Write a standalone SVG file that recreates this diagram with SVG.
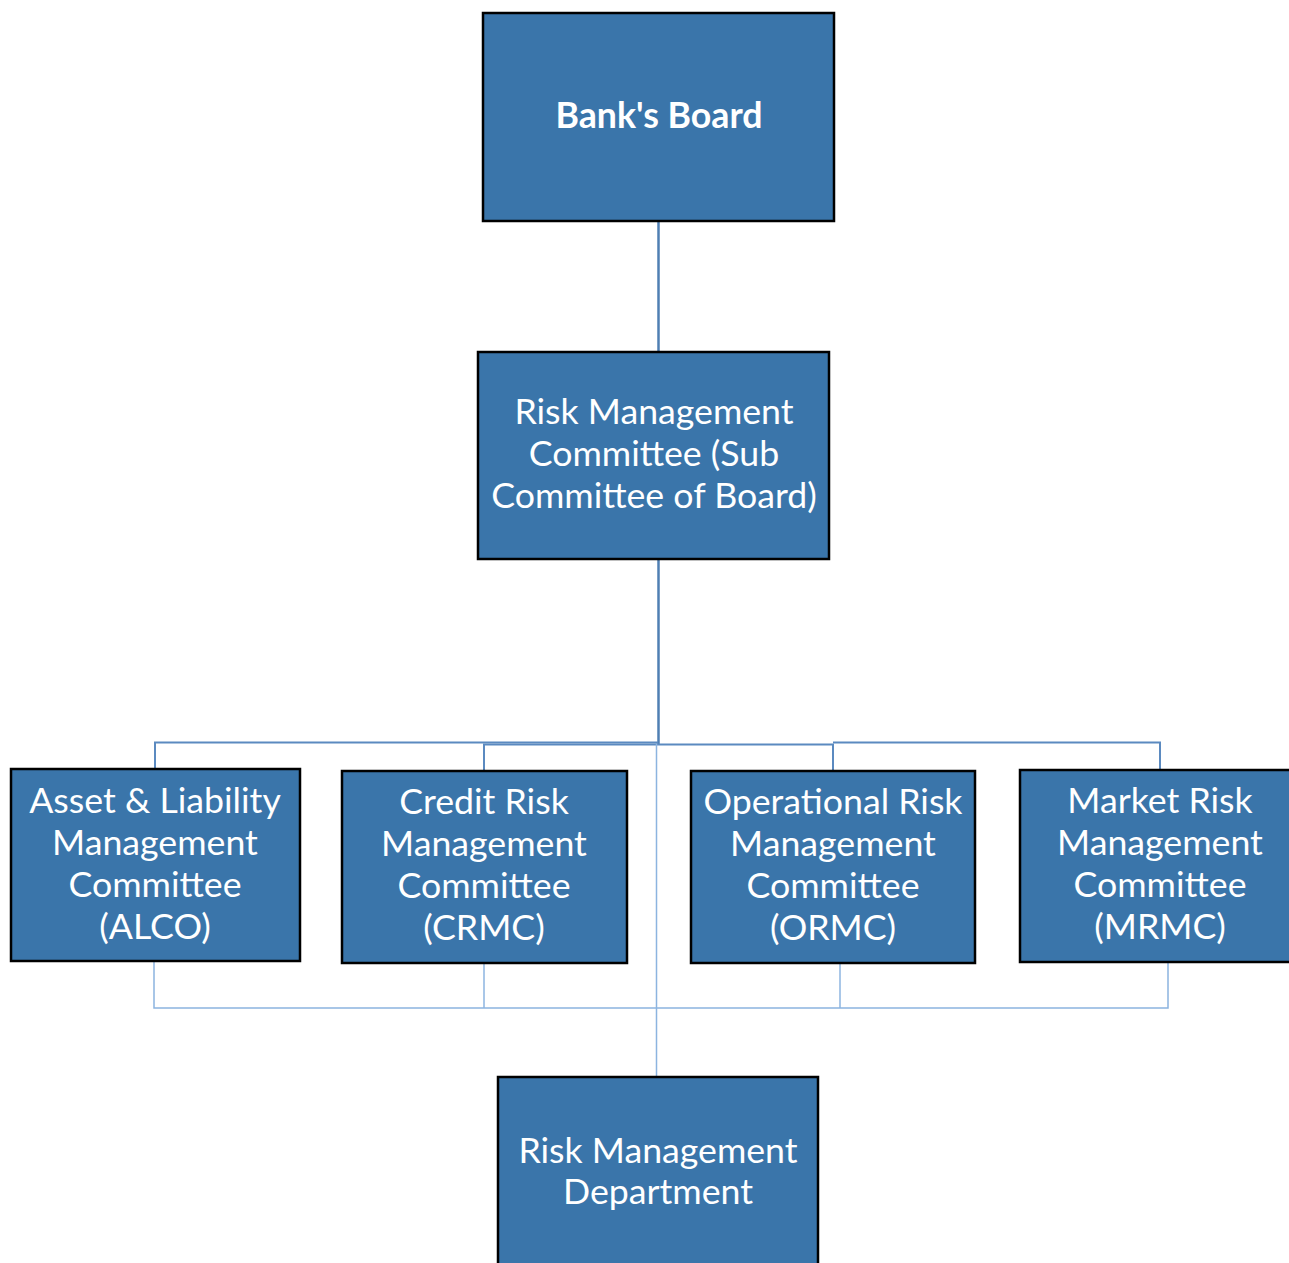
<svg xmlns="http://www.w3.org/2000/svg" width="1289" height="1263" viewBox="0 0 1289 1263">
<style>
.box{fill:#3a75aa;stroke:#000;stroke-width:2.5}
.t{font-family:Lato,"Liberation Sans",sans-serif;font-size:35.7px;fill:#fff;text-anchor:middle}
.b{font-weight:bold}
.c1{fill:none;stroke:#4f7fb3;stroke-width:2.5}
.c2{fill:none;stroke:#5b8ac0;stroke-width:2}
.c3{fill:none;stroke:#8cb4e0;stroke-width:1.5}
</style>
<rect width="1289" height="1263" fill="#fff"/>
<g id="connectors">
<line class="c1" x1="658.5" y1="221" x2="658.5" y2="352"/>
<line class="c1" x1="658.5" y1="559" x2="658.5" y2="744"/>
<polyline class="c2" points="658,742.5 155,742.5 155,769"/>
<polyline class="c2" points="658,744.5 484,744.5 484,771"/>
<polyline class="c2" points="658,744.5 833,744.5 833,771"/>
<polyline class="c2" points="833,742.5 1160,742.5 1160,770"/>
<line class="c3" x1="656.5" y1="744" x2="656.5" y2="1077"/>
<polyline class="c3" points="154,961 154,1008 1168,1008 1168,962"/>
<line class="c3" x1="484" y1="963" x2="484" y2="1008"/>
<line class="c3" x1="840" y1="963" x2="840" y2="1008"/>
</g>
<g id="board">
<rect class="box" x="483" y="13" width="351" height="208"/>
<text class="t b" x="659" y="128">Bank's Board</text>
</g>
<g id="rmc">
<rect class="box" x="478" y="352" width="351" height="207"/>
<text class="t" x="654" y="424">Risk Management</text>
<text class="t" x="654" y="466">Committee (Sub</text>
<text class="t" x="654" y="508">Committee of Board)</text>
</g>
<g id="alco">
<rect class="box" x="11" y="769" width="289" height="192"/>
<text class="t" x="155" y="813">Asset &amp; Liability</text>
<text class="t" x="155" y="855">Management</text>
<text class="t" x="155" y="897">Committee</text>
<text class="t" x="155" y="939">(ALCO)</text>
</g>
<g id="crmc">
<rect class="box" x="342" y="771" width="285" height="192"/>
<text class="t" x="484" y="814">Credit Risk</text>
<text class="t" x="484" y="856">Management</text>
<text class="t" x="484" y="898">Committee</text>
<text class="t" x="484" y="940">(CRMC)</text>
</g>
<g id="ormc">
<rect class="box" x="691" y="771" width="284" height="192"/>
<text class="t" x="833" y="814">Operational Risk</text>
<text class="t" x="833" y="856">Management</text>
<text class="t" x="833" y="898">Committee</text>
<text class="t" x="833" y="940">(ORMC)</text>
</g>
<g id="mrmc">
<rect class="box" x="1020" y="770" width="280" height="192"/>
<text class="t" x="1160" y="813">Market Risk</text>
<text class="t" x="1160" y="855">Management</text>
<text class="t" x="1160" y="897">Committee</text>
<text class="t" x="1160" y="939">(MRMC)</text>
</g>
<g id="rmd">
<rect class="box" x="498" y="1077" width="320" height="200"/>
<text class="t" x="658" y="1163">Risk Management</text>
<text class="t" x="658" y="1204">Department</text>
</g>
</svg>
